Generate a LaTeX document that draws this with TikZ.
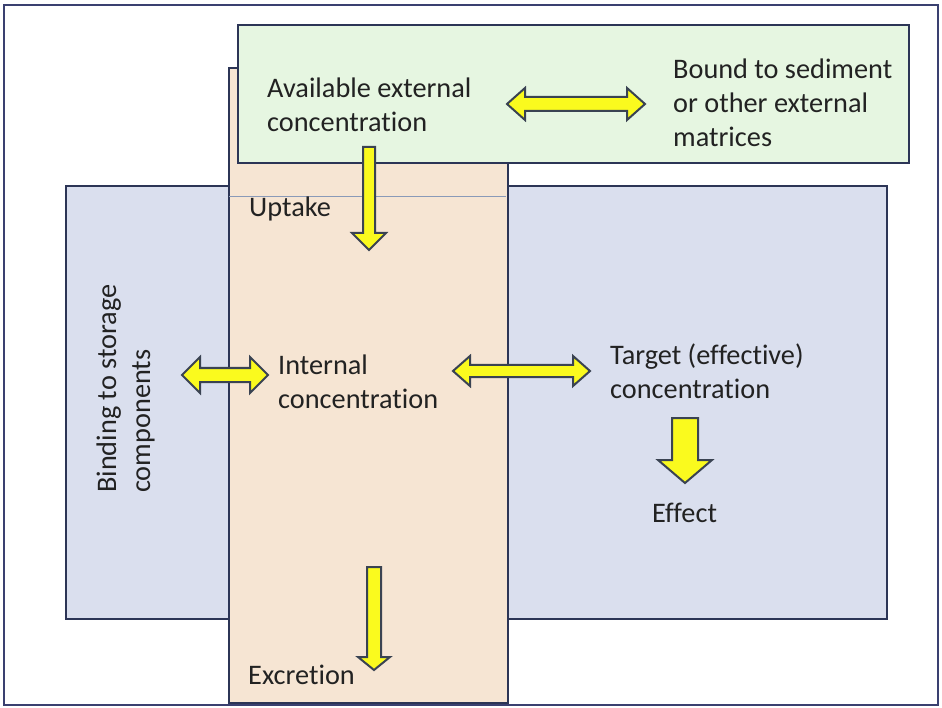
\documentclass[tikz,border=0pt]{standalone}
\usepackage{fontspec}
\setmainfont[Ligatures=NoCommon]{Carlito}
\definecolor{boxline}{HTML}{2C3556}
\definecolor{framecol}{HTML}{3A4070}
\definecolor{greenbg}{HTML}{E6F6E1}
\definecolor{tanbg}{HTML}{F6E5D3}
\definecolor{bluebg}{HTML}{DADFEE}
\definecolor{arrowyellow}{RGB}{250,250,30}
\definecolor{arrowline}{HTML}{3A4352}
\definecolor{textcol}{HTML}{222222}
\definecolor{thinline}{HTML}{8A9AB8}
\begin{document}
\begin{tikzpicture}[x=1pt,y=-1pt,
  box/.style={draw=boxline, line width=2pt, inner sep=0pt, anchor=north west},
  yarrow/.style={fill=arrowyellow, draw=arrowline, line width=2pt, line join=miter},
  lbl/.style={font=\fontsize{28.3}{34}\selectfont, text=textcol, inner sep=0pt, anchor=base west, align=left}]
\useasboundingbox (0,0) rectangle (942,708);
\fill[white] (0,0) rectangle (942,708);
\draw[draw=framecol, line width=2.5pt] (4,5) rectangle (938,705);
% boxes
\node[box, fill=bluebg, minimum width=821pt, minimum height=433pt] (organism) at (65,185) {};
\node[box, fill=tanbg, minimum width=279pt, minimum height=635pt] (body) at (228,67) {};
\draw[thinline, line width=1pt] (229,197) -- (506,197);
\node[box, fill=greenbg, minimum width=671pt, minimum height=138pt] (external) at (237,24) {};
% block arrows
\draw[yarrow] (507,104) -- (525,88) -- (525,97) -- (627,97) -- (627,88) -- (645,104) -- (627,120) -- (627,111) -- (525,111) -- (525,120) -- cycle;
\draw[yarrow] (182,375) -- (200,357) -- (200,368) -- (250,368) -- (250,357) -- (268,375) -- (250,393) -- (250,382) -- (200,382) -- (200,393) -- cycle;
\draw[yarrow] (453,371) -- (470,356) -- (470,365) -- (573,365) -- (573,356) -- (590,371) -- (573,386) -- (573,377) -- (470,377) -- (470,386) -- cycle;
\draw[yarrow] (363,147) -- (375,147) -- (375,233) -- (386,233) -- (369,250) -- (352,233) -- (363,233) -- cycle;
\draw[yarrow] (367,567) -- (381,567) -- (381,657) -- (390,657) -- (374,670) -- (358,657) -- (367,657) -- cycle;
\draw[yarrow] (672,418) -- (698,418) -- (698,460) -- (712,460) -- (685,483) -- (658,460) -- (672,460) -- cycle;
% labels (anchor = baseline of last line)
\node[lbl] (avail) at (267,132) {Available external\\concentration};
\node[lbl] (bound) at (673,147) {Bound to sediment\\or other external\\matrices};
\node[lbl] (uptake) at (249,217) {Uptake};
\node[lbl] (internal) at (278,408) {Internal\\concentration};
\node[lbl] (target) at (610,399) {Target (effective)\\concentration};
\node[lbl] (effect) at (652,522) {Effect};
\node[lbl] (excr) at (248,684) {Excretion};
\node[lbl, rotate=90] (binding) at (150,493) {Binding to storage\\components};
\end{tikzpicture}
\end{document}
